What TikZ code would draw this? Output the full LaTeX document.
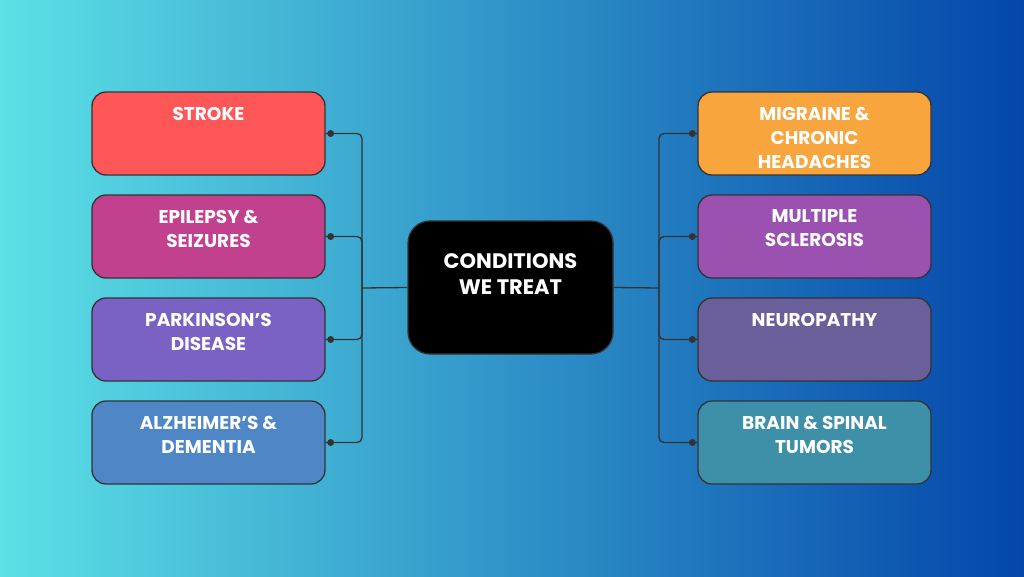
\documentclass[tikz,border=0pt]{standalone}
\usepackage{fontspec}
\setmainfont{Poppins}
\begin{document}
\begin{tikzpicture}[x=1pt,y=-1pt,
  box/.style={draw=black!80,line width=1.3pt,rounded corners=14pt,minimum width=233pt,minimum height=83pt},
  lbl/.style={text=white,font=\bfseries\fontsize{18.5}{24}\selectfont,align=center,anchor=north},
  con/.style={draw=black!80,line width=1.3pt},
  dot/.style={circle,fill=black!80,inner sep=0pt,minimum size=7pt}]
\fill[left color={rgb,255:red,92;green,224;blue,230},right color={rgb,255:red,4;green,70;blue,170}] (0,0) rectangle (1024,576);
\useasboundingbox (0,0) rectangle (1024,576);
\definecolor{c1}{HTML}{FF5757}\definecolor{c2}{HTML}{C2418F}\definecolor{c3}{HTML}{7A62C4}\definecolor{c4}{HTML}{4F86C6}
\definecolor{c5}{HTML}{F9A53D}\definecolor{c6}{HTML}{9B51B0}\definecolor{c7}{HTML}{6B5F99}\definecolor{c8}{HTML}{3E8FA8}
\node[box,fill=c1] (l1) at (208.5,133.5) {};
\node[box,fill=c2] (l2) at (208.5,236.5) {};
\node[box,fill=c3] (l3) at (208.5,339.5) {};
\node[box,fill=c4] (l4) at (208.5,442.5) {};
\node[box,fill=c5] (r1) at (814.5,133.5) {};
\node[box,fill=c6] (r2) at (814.5,236.5) {};
\node[box,fill=c7] (r3) at (814.5,339.5) {};
\node[box,fill=c8] (r4) at (814.5,442.5) {};
\node[box,fill=black,minimum width=205pt,minimum height=133pt,rounded corners=22pt] (c) at (510.5,287.5) {};
\node[text=white,font=\bfseries\fontsize{21}{26}\selectfont,align=center] at ([yshift=13pt]c.center) {CONDITIONS\\WE TREAT};
\foreach \n/\t in {l1/STROKE,l2/{EPILEPSY \&\\SEIZURES},l3/{PARKINSON’S\\DISEASE},l4/{ALZHEIMER’S \&\\DEMENTIA},r1/{MIGRAINE \&\\CHRONIC\\HEADACHES},r2/{MULTIPLE\\SCLEROSIS},r3/NEUROPATHY,r4/{BRAIN \& SPINAL\\TUMORS}}
  \node[lbl] at ([yshift=-12pt]\n.north) {\t};
\coordinate (lj) at (362,288); \coordinate (rj) at (659,288);
\draw[con] (c.west) -- (lj);
\draw[con] (c.east) -- (rj);
\foreach \n in {l1,l2,l3,l4}{
  \draw[con,rounded corners=5pt] (\n.east) -- (lj|-\n.east) -- (lj);
  \node[dot] at ([xshift=5pt]\n.east) {};}
\foreach \n in {r1,r2,r3,r4}{
  \draw[con,rounded corners=5pt] (\n.west) -- (rj|-\n.west) -- (rj);
  \node[dot] at ([xshift=-5pt]\n.west) {};}
\end{tikzpicture}
\end{document}
